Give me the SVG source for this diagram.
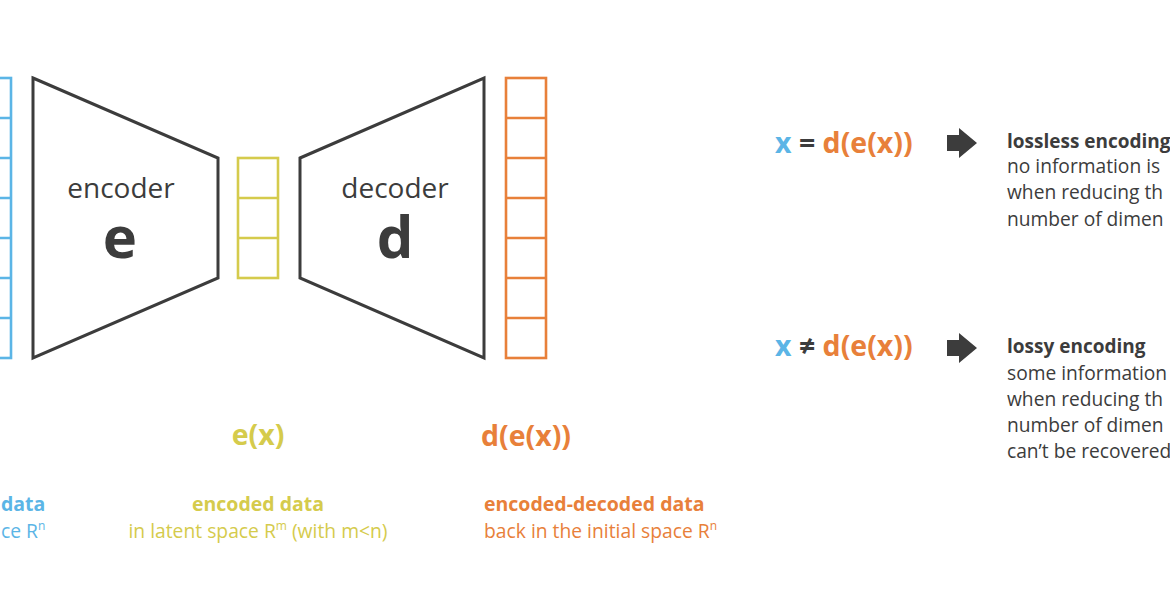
<svg xmlns="http://www.w3.org/2000/svg" width="1170" height="600" viewBox="0 0 1170 600">
<style>
text{font-family:"Open Sans","Noto Sans","DejaVu Sans",sans-serif}
.blk{fill:#fff;stroke:#3c3c3c;stroke-width:3;stroke-linejoin:miter}
.cell{fill:#fff;stroke-width:2.6}
.b{stroke:#5bb5e6}.y{stroke:#d5cb4c}.o{stroke:#e8803a}
.tb{fill:#5bb5e6}.ty{fill:#d5cb4c}.to{fill:#e8803a}.td{fill:#3c3c3c}
.bold{font-weight:700}
.lbl{font-size:28px}
.big{font-size:58px;font-weight:700}
.cap{font-size:19.5px}
.sub{font-size:19.3px}
.eq{font-size:28.5px;font-weight:700}
.rt{font-size:19.2px}
.rtb{font-size:19px;font-weight:700}
.sup{font-size:12px}
.arr{fill:#3c3c3c}
</style>
<defs>
<g id="col7">
<rect x="0" y="0" width="40" height="280"/>
<path d="M0 40H40M0 80H40M0 120H40M0 160H40M0 200H40M0 240H40"/>
</g>
<polygon id="blockarrow" points="0,-8 12,-8 12,-15 30,0 12,15 12,8 0,8"/>
</defs>

<g id="input-x">
<use href="#col7" x="-29" y="78" class="cell b"/>
<text x="1" y="511" class="cap bold tb">data</text>
<text x="1" y="538" class="sub tb">ce R<tspan class="sup" dy="-8">n</tspan></text>
</g>

<g id="encoder">
<polygon class="blk" points="33,78 218,158 218,278 33,358"/>
<text x="121" y="198" text-anchor="middle" class="lbl td">encoder</text>
<text x="120" y="258" text-anchor="middle" class="big td">e</text>
</g>

<g id="latent">
<g class="cell y"><rect x="238" y="158" width="40" height="120"/><path d="M238 198H278M238 238H278"/></g>
<text x="258" y="445" text-anchor="middle" class="eq ty">e(x)</text>
<text x="258" y="511" text-anchor="middle" class="cap bold ty">encoded data</text>
<text x="258" y="538" text-anchor="middle" class="sub ty">in latent space R<tspan class="sup" dy="-8">m</tspan><tspan dy="8"> (with m&lt;n)</tspan></text>
</g>

<g id="decoder">
<polygon class="blk" points="300,158 484,78 484,358 300,278"/>
<text x="395" y="198" text-anchor="middle" class="lbl td">decoder</text>
<text x="395" y="258" text-anchor="middle" class="big td">d</text>
</g>

<g id="output">
<use href="#col7" x="506" y="78" class="cell o"/>
<text x="481" y="446" class="eq to">d(e(x))</text>
<text x="484" y="511" class="cap bold to">encoded-decoded data</text>
<text x="484" y="538" class="sub to">back in the initial space R<tspan class="sup" dy="-8">n</tspan></text>
</g>

<g id="lossless">
<text x="775" y="153" class="eq"><tspan class="tb">x</tspan><tspan class="td"> = </tspan><tspan class="to">d(e(x))</tspan></text>
<text x="1007" y="148" class="rtb td">lossless encoding</text>
<text x="1007" y="173" class="rt td">no information is</text>
<text x="1007" y="199" class="rt td">when reducing th</text>
<text x="1007" y="226" class="rt td">number of dimen</text>
</g>

<g id="lossy">
<text x="775" y="356" class="eq"><tspan class="tb">x</tspan><tspan class="td"> ≠ </tspan><tspan class="to">d(e(x))</tspan></text>
<text x="1007" y="353" class="rtb td">lossy encoding</text>
<text x="1007" y="380" class="rt td">some information</text>
<text x="1007" y="406" class="rt td">when reducing th</text>
<text x="1007" y="432" class="rt td">number of dimen</text>
<text x="1007" y="458" class="rt td">can’t be recovered</text>
</g>

<g id="connectors">
<use href="#blockarrow" x="947" y="143" class="arr"/>
<use href="#blockarrow" x="947" y="348" class="arr"/>
</g>
</svg>
